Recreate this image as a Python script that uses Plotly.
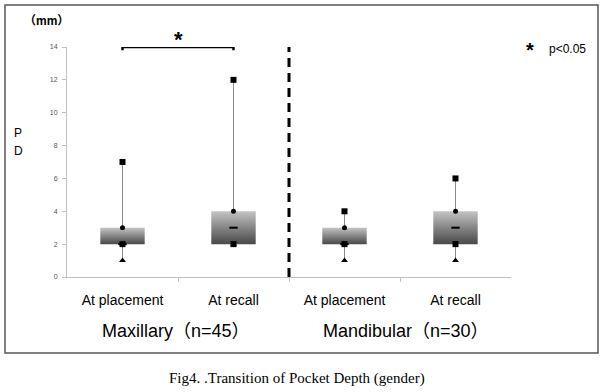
import plotly.graph_objects as go

# ---- data ----
categories = ["At placement", "At recall", "At placement", "At recall"]
groups = ["Maxillary（n=45）", "Mandibular（n=30）"]
maximum = [7, 12, 4, 6]
q3 = [3, 4, 3, 4]
median = [2, 3, 2, 3]
q1 = [2, 2, 2, 2]
minimum = [1, 2, 1, 1]
y_ticks = [0, 2, 4, 6, 8, 10, 12, 14]

# ---- geometry helpers (pixel -> paper) ----
W, H = 604, 392
ML, MR, MT, MB = 67, 93, 47, 115
PW, PH = W - ML - MR, H - MT - MB


def px(xp):
    return (xp - ML) / PW


def py(yp):
    return (H - MB - yp) / PH


xs = list(range(len(categories)))
half = 0.2

fig = go.Figure()

# whiskers
for i in xs:
    fig.add_trace(go.Scatter(x=[i, i], y=[minimum[i], maximum[i]], mode="lines",
                             line=dict(color="#8a8a8a", width=1), hoverinfo="skip",
                             showlegend=False))

# boxes with vertical gradient
for i in xs:
    fig.add_trace(go.Scatter(
        x=[i - half, i + half, i + half, i - half, i - half],
        y=[q1[i], q1[i], q3[i], q3[i], q1[i]],
        mode="lines", fill="toself", line=dict(width=0, color="rgba(0,0,0,0)"),
        fillgradient=dict(type="vertical",
                          colorscale=[[0, "#4a4a4a"], [0.15, "#5a5a5a"], [1, "#c4c4c4"]]),
        hoverinfo="skip", showlegend=False))

# markers
fig.add_trace(go.Scatter(x=xs, y=maximum, mode="markers",
                         marker=dict(symbol="square", size=6, color="black"), showlegend=False))
fig.add_trace(go.Scatter(x=xs, y=minimum, mode="markers",
                         marker=dict(symbol="triangle-up", size=6, color="black"), showlegend=False))
fig.add_trace(go.Scatter(x=xs, y=median, mode="markers",
                         marker=dict(symbol="line-ew", size=6, line=dict(width=2, color="black")),
                         showlegend=False))
fig.add_trace(go.Scatter(x=xs, y=q1, mode="markers",
                         marker=dict(symbol="square", size=6, color="black"), showlegend=False))
fig.add_trace(go.Scatter(x=xs, y=q3, mode="markers",
                         marker=dict(symbol="circle", size=5, color="black"), showlegend=False))

# significance bracket between first two categories
top = y_ticks[-1]
fig.add_trace(go.Scatter(x=[xs[0], xs[0], xs[1], xs[1]], y=[top - 0.2, top, top, top - 0.2],
                         mode="lines", line=dict(color="black", width=2.5),
                         cliponaxis=False, hoverinfo="skip", showlegend=False))

# dashed separator between the two groups
fig.add_shape(type="line", xref="x", yref="y", x0=1.5, x1=1.5, y0=0, y1=top,
              line=dict(color="black", width=3, dash="9px,6px"))

# outer frame
fig.add_shape(type="rect", xref="paper", yref="paper",
              x0=px(5), x1=px(598), y0=py(353), y1=py(5),
              line=dict(color="#555555", width=1.5))

font = "Liberation Sans, Arial, Noto Sans CJK JP, sans-serif"
ann = [
    dict(text="<b>*</b>", x=0.5, xref="x", y=py(40), yref="paper", font=dict(size=22, color="black")),
    dict(text="<b>*</b>", x=px(530), y=py(50), font=dict(size=20, color="black")),
    dict(text="p<0.05", x=px(567), y=py(49), font=dict(size=12, color="black")),
    dict(text="<b>（mm）</b>", x=px(46), y=py(21), font=dict(size=12, color="black")),
    dict(text="P", x=px(18), y=py(133), font=dict(size=12, color="black")),
    dict(text="D", x=px(18), y=py(151), font=dict(size=12, color="black")),
    dict(text=groups[0], x=px(176), y=py(331), font=dict(size=18, color="black")),
    dict(text=groups[1], x=px(406), y=py(331), font=dict(size=18, color="black")),
    dict(text="Fig4. .Transition of Pocket Depth (gender)", x=px(297), y=py(378),
         font=dict(size=15, color="black", family="Liberation Serif, Times New Roman, serif")),
]
for a in ann:
    a.setdefault("xref", "paper")
    a.setdefault("yref", "paper")
    a.update(showarrow=False, xanchor="center", yanchor="middle")
fig.update_layout(annotations=ann)

fig.update_layout(
    width=W, height=H,
    margin=dict(l=ML, r=MR, t=MT, b=MB),
    paper_bgcolor="white", plot_bgcolor="white",
    font=dict(family=font, color="black"),
    showlegend=False,
    xaxis=dict(range=[-0.5, 3.5], tickvals=xs, ticktext=categories, ticks="",
               tickfont=dict(size=14, color="black"), ticklabelstandoff=10,
               showgrid=False, zeroline=False, showline=True, linecolor="#c0c0c0", linewidth=1,
               minor=dict(tickvals=[0.5, 1.5, 2.5], ticks="outside", ticklen=4,
                          tickcolor="#c0c0c0", showgrid=False)),
    yaxis=dict(range=[0, 14], tickvals=y_ticks, ticks="outside", ticklen=4,
               tickcolor="#c0c0c0", tickfont=dict(size=7, color="#555555"),
               ticklabelstandoff=3,
               showgrid=False, zeroline=False, showline=True, linecolor="#c0c0c0", linewidth=1),
)

fig.write_html("out.html", config={"displayModeBar": False},
               post_script="document.body.style.margin='0';")
